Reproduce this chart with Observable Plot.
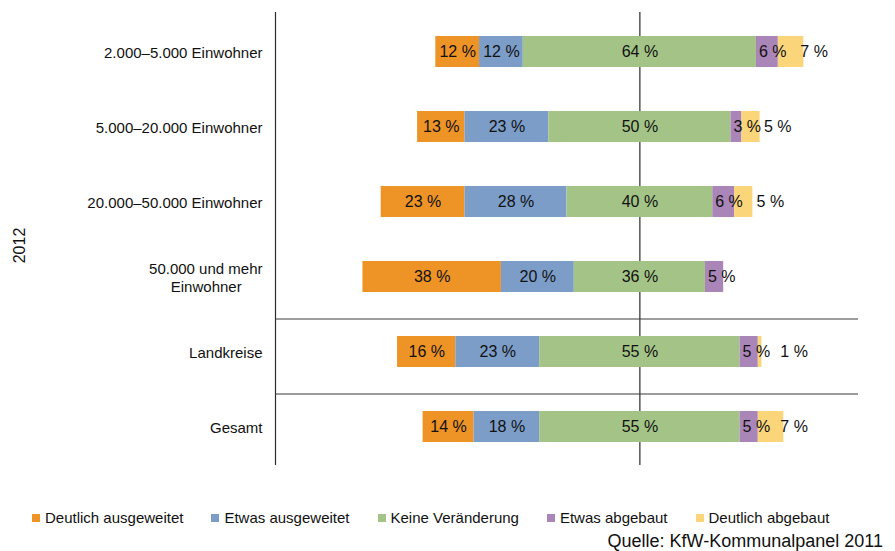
<!DOCTYPE html>
<html>
<head>
<meta charset="utf-8">
<script src="https://cdn.jsdelivr.net/npm/d3@7"></script>
<script src="https://cdn.jsdelivr.net/npm/@observablehq/plot@0.6"></script>
<style>
  body { margin: 0; background: #fff; }
  #wrap { position: relative; width: 895px; height: 551px; overflow: hidden; font-family: "Liberation Sans", Arial, sans-serif; color: #111; }
  #legend { position: absolute; left: 32px; top: 509px; display: flex; align-items: center; font-size: 15px; line-height: 18px; }
  .item { display: flex; align-items: center; margin-right: 28px; }
  .sw { width: 8px; height: 8px; margin-right: 5px; }
  #source { position: absolute; right: 12px; top: 532px; font-size: 18px; line-height: 18px; }
</style>
</head>
<body>
<div id="wrap">
  <div id="chart"></div>
  <div id="legend"></div>
  <div id="source">Quelle: KfW-Kommunalpanel 2011</div>
</div>
<script>
const categories = [
  "2.000–5.000 Einwohner",
  "5.000–20.000 Einwohner",
  "20.000–50.000 Einwohner",
  "50.000 und mehr Einwohner",
  "Landkreise",
  "Gesamt"
];
const tickLabels = [
  "2.000–5.000 Einwohner",
  "5.000–20.000 Einwohner",
  "20.000–50.000 Einwohner",
  "50.000 und mehr\nEinwohner\u00a0\u00a0\u00a0\u00a0\u00a0",
  "Landkreise",
  "Gesamt"
];
const seriesNames = ["Deutlich ausgeweitet", "Etwas ausgeweitet", "Keine Veränderung", "Etwas abgebaut", "Deutlich abgebaut"];
const seriesColors = ["#EE9326", "#7B9DC8", "#A4C487", "#AA85B7", "#FAD57A"];
const deutlichAusgeweitet = [12, 13, 23, 38, 16, 14];
const etwasAusgeweitet    = [12, 23, 28, 20, 23, 18];
const keineVeraenderung   = [64, 50, 40, 36, 55, 55];
const etwasAbgebaut       = [6, 3, 6, 5, 5, 5];
const deutlichAbgebaut    = [7, 5, 5, 0, 1, 7];
const yearLabel = "2012";

const seriesValues = [deutlichAusgeweitet, etwasAusgeweitet, keineVeraenderung, etwasAbgebaut, deutlichAbgebaut];

// Build segments, centred on the middle of "Keine Veränderung"
const rows = [];
categories.forEach((cat, i) => {
  let start = -(deutlichAusgeweitet[i] + etwasAusgeweitet[i] + keineVeraenderung[i] / 2);
  seriesValues.forEach((vals, s) => {
    const v = vals[i];
    rows.push({category: cat, series: seriesNames[s], si: s, value: v, x1: start, x2: start + v});
    start += v;
  });
});
const nonzero = rows.filter(d => d.value > 0);
const labelMap = new Map(categories.map((c, i) => [c, tickLabels[i]]));

const chart = Plot.plot({
  width: 895,
  height: 480,
  marginLeft: 275,
  marginRight: 37,
  marginTop: 12,
  marginBottom: 15,
  style: {fontFamily: "'Liberation Sans', Arial, sans-serif", fontSize: "15px", color: "#111", background: "#fff"},
  x: {domain: [-100, 60], axis: null},
  y: {domain: categories, paddingInner: 0.59, paddingOuter: 0.295, label: null, axis: null},
  color: {domain: seriesNames, range: seriesColors},
  marks: [
    Plot.ruleX([-100, 0], {stroke: "#2b2b2b", strokeWidth: 1.2}),
    Plot.ruleY(["Landkreise", "Gesamt"], {stroke: "#3a3a3a", strokeWidth: 1.2, dy: -33}),
    Plot.barX(nonzero, {y: "category", x1: "x1", x2: "x2", fill: "series"}),
    Plot.text(nonzero.filter(d => d.si < 3), {
      y: "category", x: d => (d.x1 + d.x2) / 2, text: d => `${d.value} %`,
      fontSize: 16, fill: "#111", textAnchor: "middle"
    }),
    Plot.text(nonzero.filter(d => d.si === 3), {
      y: "category", x: "x1", text: d => `${d.value} %`,
      fontSize: 16, fill: "#111", textAnchor: "start", dx: 2.5
    }),
    Plot.text(nonzero.filter(d => d.si === 4), {
      y: "category", x: "x1", text: d => `${d.value} %`,
      fontSize: 16, fill: "#111", textAnchor: "start", dx: 22
    }),
    Plot.axisY({
      tickSize: 0, tickPadding: 13, fontSize: 15, label: null,
      tickFormat: d => labelMap.get(d), lineHeight: 1.22
    }),
    Plot.text([yearLabel], {
      frameAnchor: "left", rotate: -90, textAnchor: "middle", lineAnchor: "middle",
      dx: -256, dy: 6.5, fontSize: 16, fill: "#111"
    })
  ]
});
document.getElementById("chart").appendChild(chart);

const legend = document.getElementById("legend");
seriesNames.forEach((name, i) => {
  const item = document.createElement("div");
  item.className = "item";
  const sw = document.createElement("span");
  sw.className = "sw";
  sw.style.background = seriesColors[i];
  const t = document.createElement("span");
  t.textContent = name;
  item.appendChild(sw);
  item.appendChild(t);
  legend.appendChild(item);
});
</script>
</body>
</html>
